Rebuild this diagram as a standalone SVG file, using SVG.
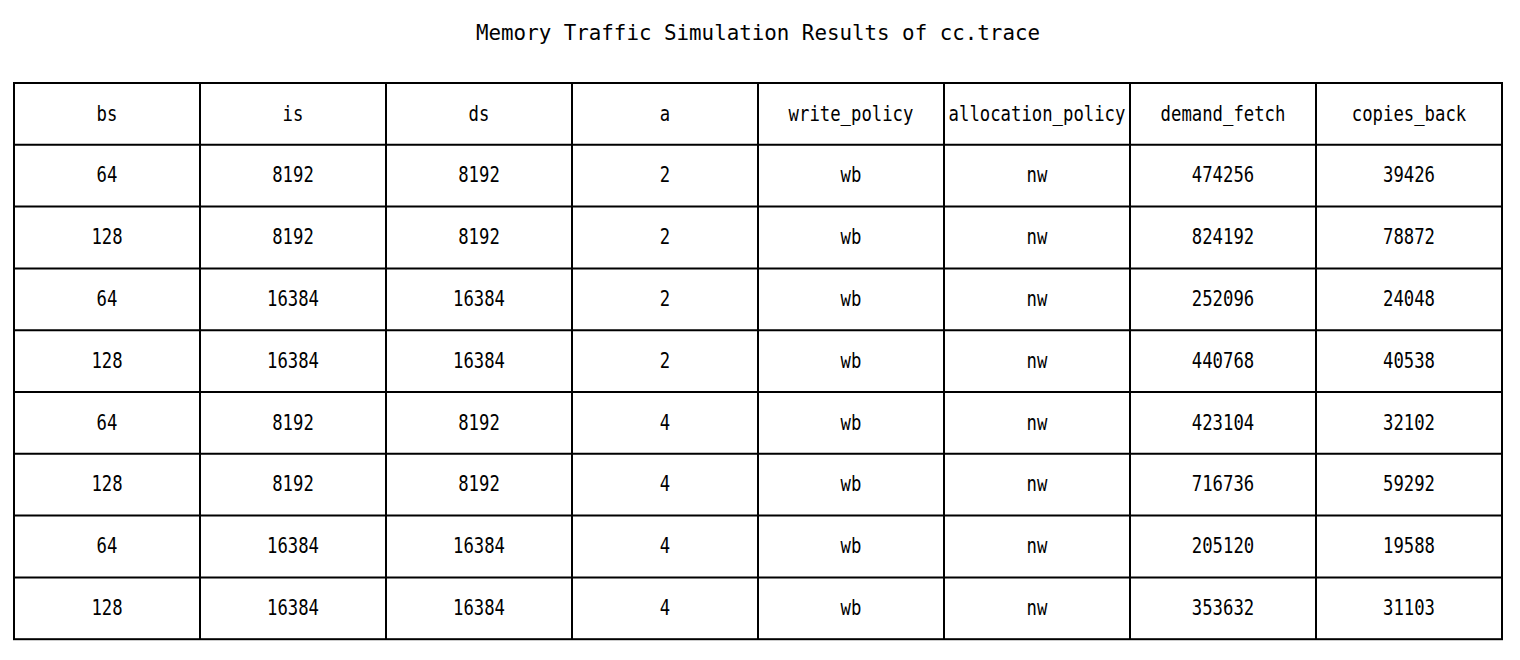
<svg xmlns="http://www.w3.org/2000/svg" width="1520" height="660" viewBox="0 0 1520 660">
<style>
text{font-family:"DejaVu Sans Mono","Liberation Mono","Noto Sans CJK SC",monospace;font-size:21px;fill:#000;text-anchor:middle}
.title{font-size:21px}
.grid{fill:none;stroke:#000;stroke-width:2}
</style>
<rect x="0" y="0" width="1520" height="660" fill="#fff"/>
<text class="title" x="758" y="39.5" textLength="564" lengthAdjust="spacingAndGlyphs">Memory Traffic Simulation Results of cc.trace</text>
<g id="grid">
<rect class="grid" x="14" y="83" width="1488" height="556.2"/>
<path class="grid" d="M14 144.8H1502M14 206.6H1502M14 268.4H1502M14 330.2H1502M14 392H1502M14 453.8H1502M14 515.6H1502M14 577.4H1502M200 83V639.2M386 83V639.2M572 83V639.2M758 83V639.2M944 83V639.2M1130 83V639.2M1316 83V639.2"/>
</g>
<g id="header">
<text x="107" y="120.6" textLength="20.8" lengthAdjust="spacingAndGlyphs">bs</text>
<text x="293" y="120.6" textLength="20.8" lengthAdjust="spacingAndGlyphs">is</text>
<text x="479" y="120.6" textLength="20.8" lengthAdjust="spacingAndGlyphs">ds</text>
<text x="665" y="120.6" textLength="10.4" lengthAdjust="spacingAndGlyphs">a</text>
<text x="851" y="120.6" textLength="124.8" lengthAdjust="spacingAndGlyphs">write_policy</text>
<text x="1037" y="120.6" textLength="176.8" lengthAdjust="spacingAndGlyphs">allocation_policy</text>
<text x="1223" y="120.6" textLength="124.8" lengthAdjust="spacingAndGlyphs">demand_fetch</text>
<text x="1409" y="120.6" textLength="114.4" lengthAdjust="spacingAndGlyphs">copies_back</text>
</g>
<g id="row1">
<text x="107" y="182.4" textLength="20.8" lengthAdjust="spacingAndGlyphs">64</text>
<text x="293" y="182.4" textLength="41.6" lengthAdjust="spacingAndGlyphs">8192</text>
<text x="479" y="182.4" textLength="41.6" lengthAdjust="spacingAndGlyphs">8192</text>
<text x="665" y="182.4" textLength="10.4" lengthAdjust="spacingAndGlyphs">2</text>
<text x="851" y="182.4" textLength="20.8" lengthAdjust="spacingAndGlyphs">wb</text>
<text x="1037" y="182.4" textLength="20.8" lengthAdjust="spacingAndGlyphs">nw</text>
<text x="1223" y="182.4" textLength="62.4" lengthAdjust="spacingAndGlyphs">474256</text>
<text x="1409" y="182.4" textLength="52" lengthAdjust="spacingAndGlyphs">39426</text>
</g>
<g id="row2">
<text x="107" y="244.2" textLength="31.2" lengthAdjust="spacingAndGlyphs">128</text>
<text x="293" y="244.2" textLength="41.6" lengthAdjust="spacingAndGlyphs">8192</text>
<text x="479" y="244.2" textLength="41.6" lengthAdjust="spacingAndGlyphs">8192</text>
<text x="665" y="244.2" textLength="10.4" lengthAdjust="spacingAndGlyphs">2</text>
<text x="851" y="244.2" textLength="20.8" lengthAdjust="spacingAndGlyphs">wb</text>
<text x="1037" y="244.2" textLength="20.8" lengthAdjust="spacingAndGlyphs">nw</text>
<text x="1223" y="244.2" textLength="62.4" lengthAdjust="spacingAndGlyphs">824192</text>
<text x="1409" y="244.2" textLength="52" lengthAdjust="spacingAndGlyphs">78872</text>
</g>
<g id="row3">
<text x="107" y="306" textLength="20.8" lengthAdjust="spacingAndGlyphs">64</text>
<text x="293" y="306" textLength="52" lengthAdjust="spacingAndGlyphs">16384</text>
<text x="479" y="306" textLength="52" lengthAdjust="spacingAndGlyphs">16384</text>
<text x="665" y="306" textLength="10.4" lengthAdjust="spacingAndGlyphs">2</text>
<text x="851" y="306" textLength="20.8" lengthAdjust="spacingAndGlyphs">wb</text>
<text x="1037" y="306" textLength="20.8" lengthAdjust="spacingAndGlyphs">nw</text>
<text x="1223" y="306" textLength="62.4" lengthAdjust="spacingAndGlyphs">252096</text>
<text x="1409" y="306" textLength="52" lengthAdjust="spacingAndGlyphs">24048</text>
</g>
<g id="row4">
<text x="107" y="367.8" textLength="31.2" lengthAdjust="spacingAndGlyphs">128</text>
<text x="293" y="367.8" textLength="52" lengthAdjust="spacingAndGlyphs">16384</text>
<text x="479" y="367.8" textLength="52" lengthAdjust="spacingAndGlyphs">16384</text>
<text x="665" y="367.8" textLength="10.4" lengthAdjust="spacingAndGlyphs">2</text>
<text x="851" y="367.8" textLength="20.8" lengthAdjust="spacingAndGlyphs">wb</text>
<text x="1037" y="367.8" textLength="20.8" lengthAdjust="spacingAndGlyphs">nw</text>
<text x="1223" y="367.8" textLength="62.4" lengthAdjust="spacingAndGlyphs">440768</text>
<text x="1409" y="367.8" textLength="52" lengthAdjust="spacingAndGlyphs">40538</text>
</g>
<g id="row5">
<text x="107" y="429.6" textLength="20.8" lengthAdjust="spacingAndGlyphs">64</text>
<text x="293" y="429.6" textLength="41.6" lengthAdjust="spacingAndGlyphs">8192</text>
<text x="479" y="429.6" textLength="41.6" lengthAdjust="spacingAndGlyphs">8192</text>
<text x="665" y="429.6" textLength="10.4" lengthAdjust="spacingAndGlyphs">4</text>
<text x="851" y="429.6" textLength="20.8" lengthAdjust="spacingAndGlyphs">wb</text>
<text x="1037" y="429.6" textLength="20.8" lengthAdjust="spacingAndGlyphs">nw</text>
<text x="1223" y="429.6" textLength="62.4" lengthAdjust="spacingAndGlyphs">423104</text>
<text x="1409" y="429.6" textLength="52" lengthAdjust="spacingAndGlyphs">32102</text>
</g>
<g id="row6">
<text x="107" y="491.4" textLength="31.2" lengthAdjust="spacingAndGlyphs">128</text>
<text x="293" y="491.4" textLength="41.6" lengthAdjust="spacingAndGlyphs">8192</text>
<text x="479" y="491.4" textLength="41.6" lengthAdjust="spacingAndGlyphs">8192</text>
<text x="665" y="491.4" textLength="10.4" lengthAdjust="spacingAndGlyphs">4</text>
<text x="851" y="491.4" textLength="20.8" lengthAdjust="spacingAndGlyphs">wb</text>
<text x="1037" y="491.4" textLength="20.8" lengthAdjust="spacingAndGlyphs">nw</text>
<text x="1223" y="491.4" textLength="62.4" lengthAdjust="spacingAndGlyphs">716736</text>
<text x="1409" y="491.4" textLength="52" lengthAdjust="spacingAndGlyphs">59292</text>
</g>
<g id="row7">
<text x="107" y="553.2" textLength="20.8" lengthAdjust="spacingAndGlyphs">64</text>
<text x="293" y="553.2" textLength="52" lengthAdjust="spacingAndGlyphs">16384</text>
<text x="479" y="553.2" textLength="52" lengthAdjust="spacingAndGlyphs">16384</text>
<text x="665" y="553.2" textLength="10.4" lengthAdjust="spacingAndGlyphs">4</text>
<text x="851" y="553.2" textLength="20.8" lengthAdjust="spacingAndGlyphs">wb</text>
<text x="1037" y="553.2" textLength="20.8" lengthAdjust="spacingAndGlyphs">nw</text>
<text x="1223" y="553.2" textLength="62.4" lengthAdjust="spacingAndGlyphs">205120</text>
<text x="1409" y="553.2" textLength="52" lengthAdjust="spacingAndGlyphs">19588</text>
</g>
<g id="row8">
<text x="107" y="615" textLength="31.2" lengthAdjust="spacingAndGlyphs">128</text>
<text x="293" y="615" textLength="52" lengthAdjust="spacingAndGlyphs">16384</text>
<text x="479" y="615" textLength="52" lengthAdjust="spacingAndGlyphs">16384</text>
<text x="665" y="615" textLength="10.4" lengthAdjust="spacingAndGlyphs">4</text>
<text x="851" y="615" textLength="20.8" lengthAdjust="spacingAndGlyphs">wb</text>
<text x="1037" y="615" textLength="20.8" lengthAdjust="spacingAndGlyphs">nw</text>
<text x="1223" y="615" textLength="62.4" lengthAdjust="spacingAndGlyphs">353632</text>
<text x="1409" y="615" textLength="52" lengthAdjust="spacingAndGlyphs">31103</text>
</g>
</svg>
